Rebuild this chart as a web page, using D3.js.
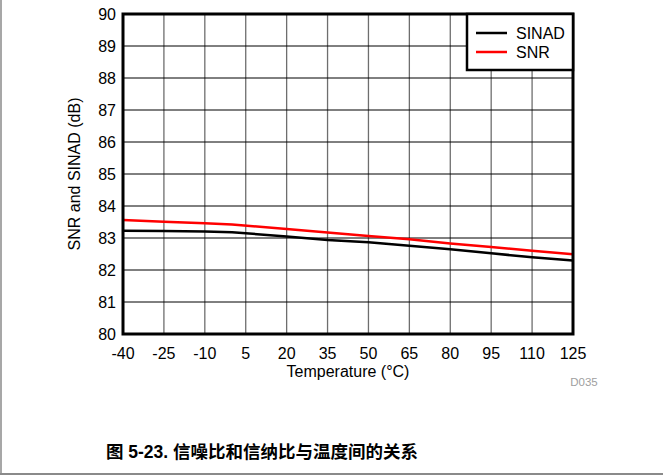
<!DOCTYPE html>
<html>
<head>
<meta charset="utf-8">
<script src="https://cdn.jsdelivr.net/npm/d3@7"></script>
<style>
  body { margin: 0; background: #fff; }
  svg { display: block; font-family: "Liberation Sans", Arial, sans-serif; }
</style>
</head>
<body>
<div id="chart"></div>
<script>
// temperature points (°C)
const temps = [-40, -25, -10, 0, 20, 35, 50, 65, 80, 95, 110, 125];
const sinad = [83.23, 83.22, 83.2, 83.18, 83.05, 82.94, 82.87, 82.76, 82.65, 82.52, 82.4, 82.3];
const snr = [83.56, 83.51, 83.46, 83.42, 83.28, 83.17, 83.06, 82.96, 82.83, 82.72, 82.6, 82.49];
const xTicks = [-40, -25, -10, 5, 20, 35, 50, 65, 80, 95, 110, 125];
const yTicks = [80, 81, 82, 83, 84, 85, 86, 87, 88, 89, 90];
const seriesNames = ["SINAD", "SNR"];
const seriesColors = ["#000000", "#ff0000"];

const W = 663, H = 476;
const margin = { top: 14, left: 123, right: 90, bottom: 142 };
const width = W - margin.left - margin.right;
const height = H - margin.top - margin.bottom;

const svg = d3.select("#chart").append("svg")
    .attr("width", W)
    .attr("height", H);

// page border (left + bottom)
svg.append("line").attr("x1", 1).attr("y1", 0).attr("x2", 1).attr("y2", 474)
    .attr("stroke", "#8a8a8a").attr("stroke-width", 1.5);
svg.append("line").attr("x1", 0).attr("y1", 474).attr("x2", W).attr("y2", 474)
    .attr("stroke", "#8a8a8a").attr("stroke-width", 2);

const g = svg.append("g")
    .attr("transform", `translate(${margin.left},${margin.top})`);

const y = d3.scaleLinear().domain([80, 90]).range([height, 0]);
// x ticks are evenly spaced in the figure
const xt = d3.scalePoint().domain(xTicks).range([0, width]);
// x position of data: piecewise linear between the evenly spaced ticks
const xPos = d3.scaleLinear().domain(xTicks).range(xTicks.map(d => xt(d)));

// grid
g.selectAll(".vgrid").data(xTicks.slice(1, -1)).enter().append("line")
    .attr("x1", d => xt(d)).attr("x2", d => xt(d))
    .attr("y1", 0).attr("y2", height)
    .attr("stroke", "#6e6e6e").attr("stroke-width", 1.3);
g.selectAll(".hgrid").data(yTicks.slice(1, -1)).enter().append("line")
    .attr("x1", 0).attr("x2", width)
    .attr("y1", d => y(d)).attr("y2", d => y(d))
    .attr("stroke", "#000").attr("stroke-width", 1);

const line = d3.line()
    .x((d, i) => xPos(temps[i]))
    .y(d => y(d));

[sinad, snr].forEach((s, i) => {
    g.append("path")
        .datum(s)
        .attr("d", line)
        .attr("fill", "none")
        .attr("stroke", seriesColors[i])
        .attr("stroke-width", 2.5);
});

// frame
g.append("rect")
    .attr("x", 0).attr("y", 0)
    .attr("width", width).attr("height", height)
    .attr("fill", "none")
    .attr("stroke", "#000")
    .attr("stroke-width", 3);

// y tick labels
g.selectAll(".ylab").data(yTicks).enter().append("text")
    .attr("x", -7)
    .attr("y", d => y(d) + 6)
    .attr("text-anchor", "end")
    .attr("font-size", 16)
    .text(d => d);

// x tick labels
g.selectAll(".xlab").data(xTicks).enter().append("text")
    .attr("x", d => xt(d))
    .attr("y", height + 25)
    .attr("text-anchor", "middle")
    .attr("font-size", 16)
    .text(d => d);

// axis titles
g.append("text")
    .attr("x", width / 2)
    .attr("y", height + 43)
    .attr("text-anchor", "middle")
    .attr("font-size", 16)
    .text("Temperature (°C)");

g.append("text")
    .attr("transform", `translate(${-43},${height / 2}) rotate(-90)`)
    .attr("text-anchor", "middle")
    .attr("font-size", 16)
    .text("SNR and SINAD (dB)");

g.append("text")
    .attr("x", width + 11)
    .attr("y", height + 52)
    .attr("text-anchor", "middle")
    .attr("font-size", 11.5)
    .attr("fill", "#a0a0a0")
    .text("D035");

// legend
const lg = g.append("g").attr("transform", `translate(${width - 106},0)`);
lg.append("rect")
    .attr("x", 0).attr("y", 0)
    .attr("width", 106).attr("height", 56)
    .attr("fill", "#fff")
    .attr("stroke", "#000")
    .attr("stroke-width", 2.5);
seriesNames.forEach((n, i) => {
    const ly = 19 + i * 19;
    lg.append("line")
        .attr("x1", 9).attr("x2", 40)
        .attr("y1", ly).attr("y2", ly)
        .attr("stroke", seriesColors[i])
        .attr("stroke-width", 2.5);
    lg.append("text")
        .attr("x", 49).attr("y", ly + 6)
        .attr("font-size", 16)
        .text(n);
});

// caption
svg.append("text")
    .attr("x", 262)
    .attr("y", 458)
    .attr("text-anchor", "middle")
    .attr("font-size", 17.5)
    .attr("font-weight", "bold")
    .attr("font-family", "'Liberation Sans', 'Noto Sans CJK SC', sans-serif")
    .text("图 5-23. 信噪比和信纳比与温度间的关系");
</script>
</body>
</html>
